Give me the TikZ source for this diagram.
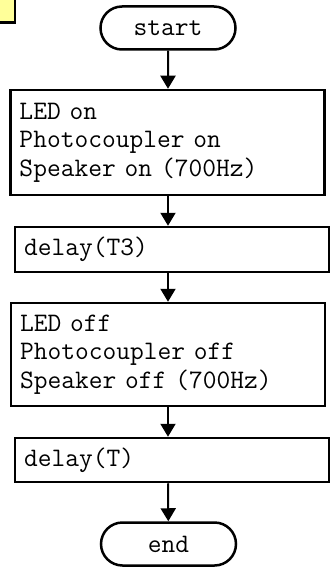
\documentclass[tikz,border=0pt]{standalone}
\usepackage{tikz}
\usetikzlibrary{shapes}
\usetikzlibrary{arrows.meta}
\definecolor{notecolor}{RGB}{255,255,153}
\tikzstyle{terminal}=[rounded rectangle,draw=black,line width=2.5pt,minimum width=135pt,minimum height=43pt,inner sep=0pt]
\tikzstyle{process}=[rectangle,draw=black,line width=2.5pt,text width=296pt,inner xsep=9pt,inner ysep=0pt,align=left]
\tikzstyle{note}=[rectangle,draw=black,fill=notecolor,line width=2.5pt,inner sep=0pt]
\tikzstyle{arrow}=[-{Triangle[width=15pt,length=13pt]},line width=2pt]
\tikzset{every picture/.style={
    font=\ttfamily\fontsize{26.7}{28.5}\selectfont
  }
}
\begin{document}
\begin{tikzpicture}[x=1pt,y=-1pt]
      \useasboundingbox (0,0) rectangle (333,569);
      \node[note,minimum width=30pt,minimum height=35pt] at (0,5) (tag) {};
      \node[terminal] at (168,28) (start) {start};
      \node[process,minimum height=105pt] at (167.5,142.5) (ledon) {LED on\\Photocoupler on\\Speaker on (700Hz)};
      \node[process,minimum height=45pt] at (172,249.5) (wait1) {delay(T3)};
      \node[process,minimum height=103pt] at (168,354.5) (ledoff) {LED off\\Photocoupler off\\Speaker off (700Hz)};
      \node[process,minimum height=44pt] at (172,460) (wait2) {delay(T)};
      \node[terminal] at (168.5,544) (end) {end};
      \draw[arrow] (start) -- (start |- ledon.north);
      \draw[arrow] (start |- ledon.south) -- (start |- wait1.north);
      \draw[arrow] (start |- wait1.south) -- (start |- ledoff.north);
      \draw[arrow] (start |- ledoff.south) -- (start |- wait2.north);
      \draw[arrow] (start |- wait2.south) -- (end);
    \end{tikzpicture}
\end{document}
